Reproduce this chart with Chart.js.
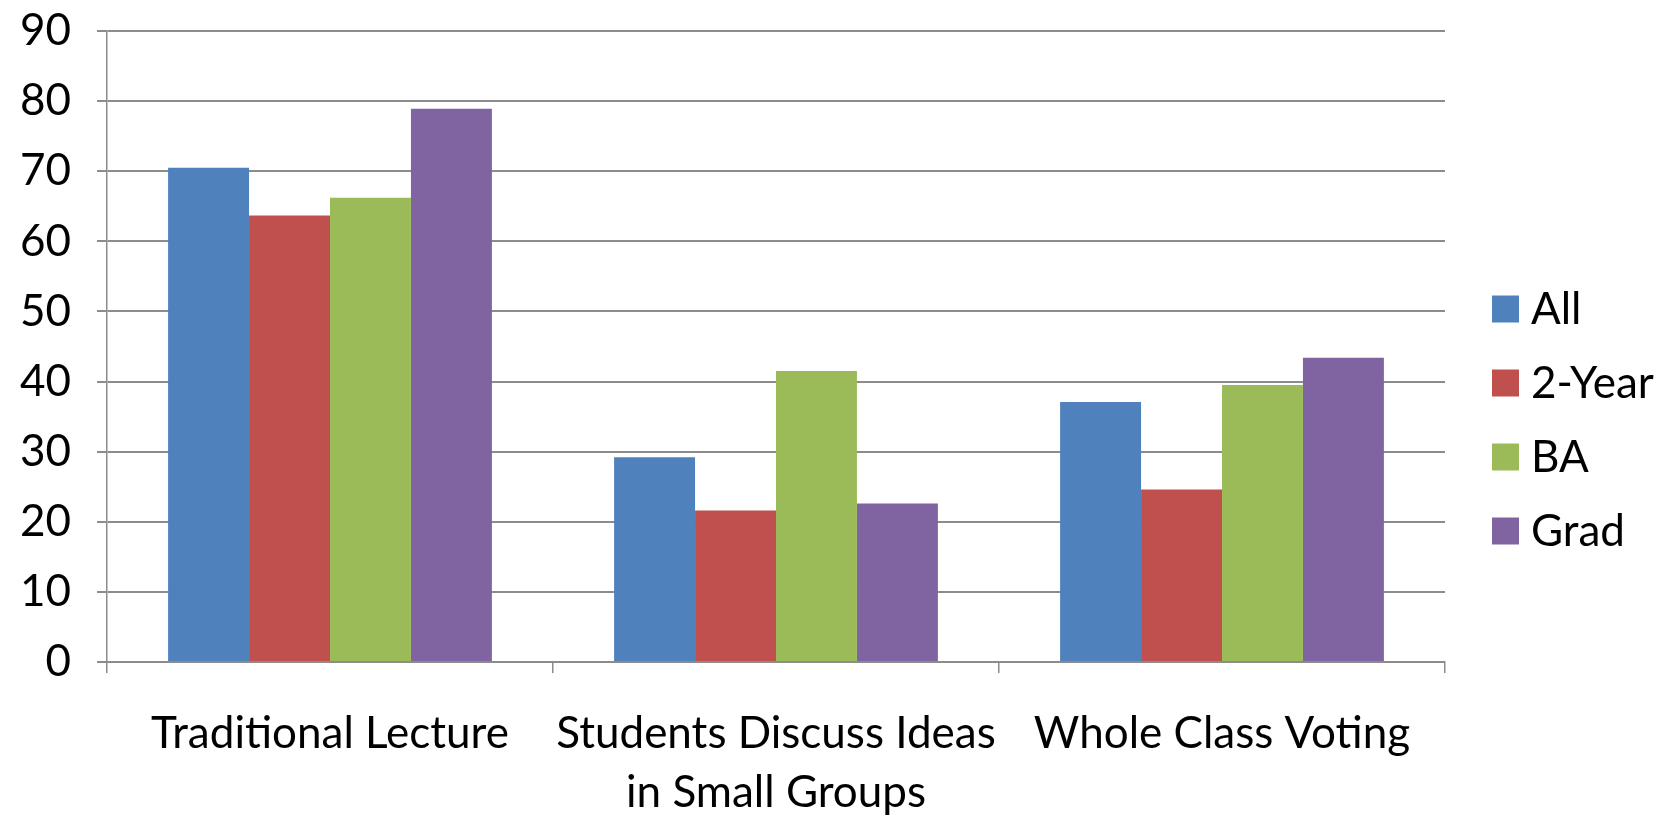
<!DOCTYPE html>
<html>
<head>
<meta charset="utf-8">
<script src="https://cdn.jsdelivr.net/npm/chart.js@4/dist/chart.umd.min.js"></script>
<style>
  html, body { margin: 0; padding: 0; background: #fff; }
  #wrap { width: 1663px; height: 817px; }
</style>
</head>
<body>
<div id="wrap"><canvas id="c" width="1663" height="817"></canvas></div>
<script>
// Teaching methods surveyed, by institution type (percent)
const categories = ["Traditional Lecture", ["Students Discuss Ideas", "in Small Groups"], "Whole Class Voting"];
const seriesNames = ["All", "2-Year", "BA", "Grad"];
const allValues = [70.5, 29.2, 37.1];
const twoYearValues = [63.7, 21.6, 24.6];
const baValues = [66.2, 41.5, 39.5];
const gradValues = [78.9, 22.6, 43.4];
const yTicks = [0, 10, 20, 30, 40, 50, 60, 70, 80, 90];

const colors = ["#4F81BD", "#C0504D", "#9BBB59", "#8064A2"];
const FONT = "Lato, 'Open Sans', sans-serif";
const FONT_SIZE = 44;
const GRID = "#8c8c8c";

// Legend drawn at the right, one row per series
const sideLegend = {
  id: "sideLegend",
  afterDraw(chart) {
    const ctx = chart.ctx;
    const x = 1492, box = 27, firstY = 309, step = 74;
    ctx.save();
    ctx.font = FONT_SIZE + "px " + FONT;
    ctx.textBaseline = "middle";
    ctx.textAlign = "left";
    chart.data.datasets.forEach((ds, i) => {
      const cy = firstY + i * step;
      ctx.fillStyle = ds.backgroundColor;
      ctx.fillRect(x, cy - box / 2, box, box);
      ctx.fillStyle = "#000";
      ctx.fillText(ds.label, x + 39, cy + 1);
    });
    ctx.restore();
  }
};

const seriesValues = [allValues, twoYearValues, baValues, gradValues];

new Chart(document.getElementById("c"), {
  type: "bar",
  data: {
    labels: categories,
    datasets: seriesNames.map((name, i) => ({
      label: name,
      data: seriesValues[i],
      backgroundColor: colors[i],
      borderWidth: 0,
      categoryPercentage: 0.726,
      barPercentage: 1.0
    }))
  },
  options: {
    responsive: false,
    animation: false,
    layout: { padding: { top: 31, right: 218, left: 0, bottom: 0 } },
    plugins: { legend: { display: false }, tooltip: { enabled: false } },
    scales: {
      x: {
        grid: { display: true, drawOnChartArea: false, offset: true, color: GRID, lineWidth: 1.5, tickLength: 11 },
        border: { display: true, color: GRID, width: 2 },
        ticks: { color: "#000", font: { family: FONT, size: FONT_SIZE, lineHeight: 1.34 }, padding: 31, maxRotation: 0, autoSkip: false },
        afterFit(scale) { scale.height = 155; scale.paddingLeft = 0; scale.paddingRight = 0; }
      },
      y: {
        min: 0,
        max: 90,
        afterBuildTicks(scale) { scale.ticks = yTicks.map(v => ({ value: v })); },
        grid: { color: GRID, lineWidth: 2, tickLength: 10 },
        border: { display: true, color: GRID, width: 1.5 },
        ticks: { color: "#000", font: { family: FONT, size: FONT_SIZE }, padding: 26 },
        afterFit(scale) { scale.width = 107; scale.paddingTop = 0; scale.paddingBottom = 0; }
      }
    }
  },
  plugins: [sideLegend]
});
</script>
</body>
</html>
